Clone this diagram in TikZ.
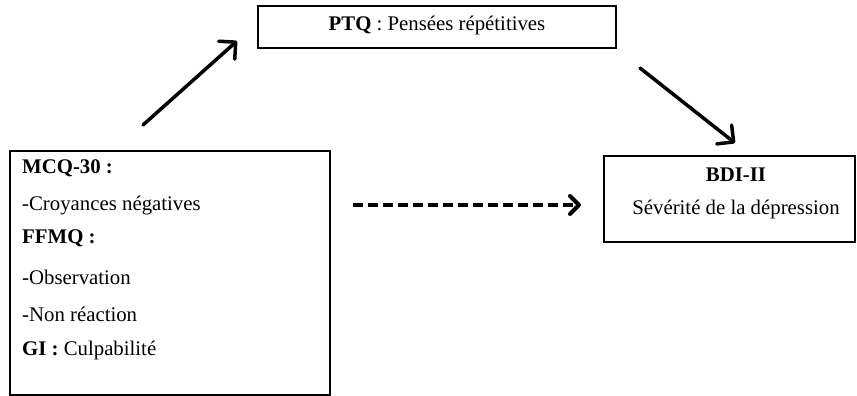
\documentclass[tikz,border=0pt]{standalone}
\usepackage{fontspec}
\setmainfont{Liberation Serif}
\usetikzlibrary{arrows.meta}
\begin{document}
\begin{tikzpicture}[x=1pt,y=-1pt,
  boxstyle/.style={draw=black,line width=1.7pt,inner sep=0pt},
  txt/.style={inner sep=0pt,font=\fontsize{20.8}{24}\selectfont},
  ltxt/.style={txt,anchor=base west},
  ctxt/.style={txt,anchor=base},
  solidarrow/.style={line width=3.5pt,line cap=round,-{Straight Barb[length=12pt,width=24pt,line width=3.5pt,round]}},
  dasharrow/.style={line width=4pt,dash pattern=on 10pt off 5pt,-{Straight Barb[length=9pt,width=18pt,line width=4pt,round]}}
]
\useasboundingbox (0,0) rectangle (857,396);
% boxes
\node[boxstyle,minimum width=320pt,minimum height=244pt] (left) at (170,273) {};
\node[boxstyle,minimum width=358pt,minimum height=42pt] (ptq) at (437,27) {};
\node[boxstyle,minimum width=251pt,minimum height=86pt] (bdi) at (729.5,199) {};
% texts left box
\node[ltxt] (t1) at (22,173) {\textbf{MCQ-30 :}};
\node[ltxt] (t2) at (22,210) {-Croyances négatives};
\node[ltxt] (t3) at (22,243) {\textbf{FFMQ :}};
\node[ltxt] (t4) at (22,284) {-Observation};
\node[ltxt] (t5) at (22,321) {-Non réaction};
\node[ltxt] (t6) at (22,355) {\textbf{GI :} Culpabilité};
% texts PTQ
\node[ctxt] (tp) at (437,31) {\textbf{PTQ} : Pensées répétitives};
% texts BDI
\node[ctxt] (tb1) at (736,181) {\textbf{BDI-II}};
\node[ctxt] (tb2) at (736,214) {Sévérité de la dépression};
% connectors
\coordinate (upS) at (143,125);
\coordinate (upE) at (237,41);
\coordinate (dnS) at (640,68);
\coordinate (dnE) at (735,143);
\coordinate (daS) at (353,205);
\coordinate (daE) at (581,205);
\draw[solidarrow] (upS) -- (upE);
\draw[solidarrow] (dnS) -- (dnE);
\draw[dasharrow] (daS) -- (daE);
\end{tikzpicture}
\end{document}
